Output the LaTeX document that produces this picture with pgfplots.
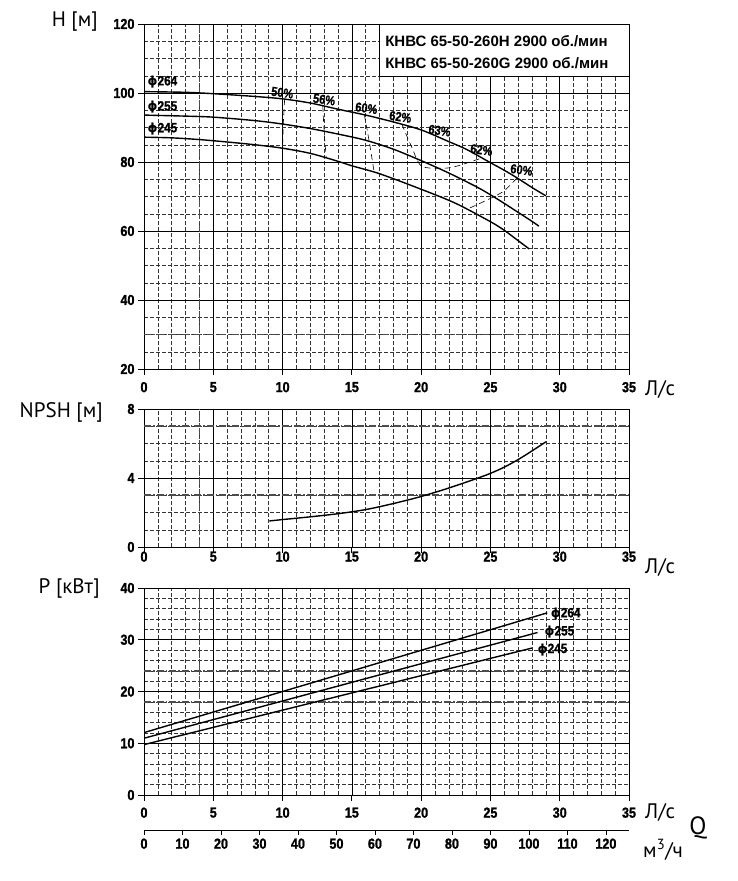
\documentclass[border=0pt]{standalone}
\usepackage{pgfplots}
\pgfplotsset{compat=1.18}
\usepackage{fontspec}
\setmainfont{Liberation Sans}
\newfontfamily\tickfont[FakeStretch=0.87, FakeBold=1.2]{Liberation Sans}
\newfontfamily\efffont[FakeStretch=0.85, FakeBold=1]{Liberation Sans}
\newfontfamily\labfont{PT Sans}
\newfontfamily\phifont{DejaVu Sans}
\newcommand{\phisym}{{\phifont\fontsize{12.5}{13}\selectfont ϕ}}

\pgfplotstableread{
q H
0 100.4
3 100.2
5 99.8
8 99.0
10 98.3
12 97.1
14 95.3
16 93.6
18 91.6
20 89.3
22 85.9
23.3 83.6
25 79.8
26 77.6
27 75.2
28 72.6
29 70.2
}\hA
\pgfplotstableread{
q H
0 93.6
3 93.3
5 93.0
8 92.0
10 91.0
12 89.7
14 88.1
16 86.3
18 83.7
20 80.4
22 76.8
24 72.8
25 70.5
26 68.0
27 65.4
28 62.8
28.5 61.4
}\hB
\pgfplotstableread{
q H
0 87.2
2 87.0
4 86.5
6 85.8
8 85.0
10 84.0
12 82.5
14 80.2
15 78.9
17 76.6
20 72.1
22.5 68.0
25 62.7
26 60.2
27 57.2
27.8 54.8
}\hC
\pgfplotstableread{
q N
9.05 1.51
10 1.59
12 1.75
14 1.93
16 2.17
18 2.52
20 2.93
22 3.42
24 3.97
25 4.27
26 4.63
27 5.07
28 5.57
29 6.10
}\npsh
\pgfplotstableread{
q P
0 12.06
10 20.0
20 27.96
29.1 35.2
}\pA
\pgfplotstableread{
q P
0 10.97
10 18.17
20 25.37
28.4 31.4
}\pB
\pgfplotstableread{
q P
0 9.74
10 16.40
20 23.06
28.0 28.4
}\pC

\tikzset{
  spec/.style={color=black!70, line width=1.6pt, dash pattern=on 7pt off 2pt on 1.5pt off 2pt},
}
\pgfplotsset{
  pumpgrid/.style={
    scale only axis, width=485pt, xmin=0, xmax=35,
    xtick={0,5,...,35}, minor x tick num=4,
    grid=both,
    major grid style={black, line width=0.65pt},
    minor grid style={black!80, line width=0.5pt, dash pattern=on 4pt off 2pt},
    tick align=outside, major tick length=6pt, minor tick length=0pt,
    xtick pos=bottom, ytick pos=left,
    axis line style={black, line width=0.8pt},
    tick style={black, line width=0.8pt},
    ticklabel style={font=\tickfont\bfseries\fontsize{14.5}{15}\selectfont},
    /pgf/number format/assume math mode=true,
    extra x ticks={4}, extra x tick labels={},
    extra x tick style={grid=major, major grid style={spec}, major tick length=0pt},
    extra y tick labels={},
    extra y tick style={grid=major, major grid style={spec}, major tick length=0pt},
  },
  curve/.style={black, line width=1.4pt, smooth, no markers},
  eff/.style={black, line width=0.6pt, dash pattern=on 6pt off 4pt, smooth, no markers},
}

\begin{document}
\begin{tikzpicture}
\useasboundingbox (0pt,0pt) rectangle (738pt,-881pt);

% ---------------- H(Q) ----------------
\begin{axis}[pumpgrid, at={(144pt,-369pt)}, anchor=south west, height=345pt,
  ymin=20, ymax=120, ytick={20,40,...,120}, minor y tick num=3,
  extra y ticks={30},
  xticklabel style={yshift=-3.5pt}]
  \addplot[curve] table[x=q,y=H] {\hA};
  \addplot[curve] table[x=q,y=H] {\hB};
  \addplot[curve] table[x=q,y=H] {\hC};
  % iso-efficiency lines
  \addplot[eff] coordinates {(10.15,98.2) (10.05,90.9) (10.0,84.0)};
  \addplot[eff] coordinates {(12.9,96.3) (13.0,89.0) (13.15,81.2)};
  \addplot[eff] coordinates {(15.9,93.7) (16.25,86.0) (16.6,77.3)};
  \addplot[eff] coordinates {(18.6,91.0) (19.3,84.5) (20.0,78.9) (21.3,78.2) (22.4,78.6) (24.4,81.2)};
  \addplot[eff] coordinates {(26.9,75.3) (25.9,71.4) (24.5,68.5) (23.3,66.3)};
  \begin{scope}[every node/.style={font=\efffont\bfseries\fontsize{13}{14}\selectfont, inner sep=0pt}]
    \node[rotate=-8] at (axis cs:9.98,100.1) {50\%};
    \node[rotate=-8] at (axis cs:13.0,98.1) {56\%};
    \node[rotate=-8] at (axis cs:16.05,95.6) {60\%};
    \node[rotate=-8] at (axis cs:18.5,93.1) {62\%};
    \node[rotate=-8] at (axis cs:21.33,89.1) {63\%};
    \node[rotate=-8] at (axis cs:24.35,83.5) {62\%};
    \node[rotate=-8] at (axis cs:27.24,77.7) {60\%};
  \end{scope}
  \begin{scope}[every node/.style={font=\tickfont\bfseries\fontsize{13.5}{14}\selectfont, inner sep=0pt, anchor=west}]
    \node at (axis cs:0.25,103.2) {\phisym264};
    \node at (axis cs:0.25,95.9) {\phisym255};
    \node at (axis cs:0.25,89.6) {\phisym245};
  \end{scope}
  \draw[fill=white, line width=0.8pt] (axis cs:17.0,104.9) rectangle (axis cs:35,120);
  \node[anchor=west, font=\bfseries\fontsize{15}{17}\selectfont, inner sep=0pt] at (axis cs:17.4,115.1) {КНВС 65-50-260Н 2900 об./мин};
  \node[anchor=west, font=\bfseries\fontsize{15}{17}\selectfont, inner sep=0pt] at (axis cs:17.4,108.7) {КНВС 65-50-260G 2900 об./мин};
\end{axis}

% ---------------- NPSH ----------------
\begin{axis}[pumpgrid, at={(144pt,-547pt)}, anchor=south west, height=138pt,
  ymin=0, ymax=8, ytick={0,4,8}, minor y tick num=3,
  extra y ticks={3,7},
  xticklabel style={yshift=5pt}]
  \addplot[curve] table[x=q,y=N] {\npsh};
\end{axis}

% ---------------- P ----------------
\begin{axis}[pumpgrid, at={(144pt,-795pt)}, anchor=south west, height=207pt,
  ymin=0, ymax=40, ytick={0,10,...,40}, minor y tick num=4,
  extra y ticks={18,24},
  xticklabel style={yshift=-3pt}]
  \addplot[curve] table[x=q,y=P] {\pA};
  \addplot[curve] table[x=q,y=P] {\pB};
  \addplot[curve] table[x=q,y=P] {\pC};
  \begin{scope}[every node/.style={font=\tickfont\bfseries\fontsize{13.5}{14}\selectfont, inner sep=0pt, anchor=west}]
    \node at (axis cs:29.35,35.0) {\phisym264};
    \node at (axis cs:28.9,31.5) {\phisym255};
    \node at (axis cs:28.4,28.1) {\phisym245};
  \end{scope}
\end{axis}

% ---------------- m3/h axis ----------------
\begin{axis}[scale only axis, at={(144pt,-830pt)}, anchor=south west, width=485pt, height=1pt,
  xmin=0, xmax=126, ymin=0, ymax=1,
  axis x line=bottom, axis y line=none, x axis line style={-, line width=0.8pt},
  xtick={0,10,...,120}, tick align=outside, major tick length=5pt, minor tick num=0,
  tick style={black, line width=0.8pt}, ytick=\empty,
  ticklabel style={font=\tickfont\bfseries\fontsize{14.5}{15}\selectfont},
  /pgf/number format/assume math mode=true]
  \addplot[draw=none] coordinates {(0,0) (126,0)};
\end{axis}

% ---------------- labels ----------------
\begin{scope}[every node/.style={font=\labfont\fontsize{21}{24}\selectfont, inner sep=0pt}]
  \node[anchor=east] at (98pt,-22pt) {H [м]};
  \node[anchor=east] at (103pt,-412pt) {NPSH [м]};
  \node[anchor=east] at (100pt,-588pt) {P [кВт]};
  \node[anchor=west] at (645pt,-389pt) {Л/с};
  \node[anchor=west] at (645pt,-567pt) {Л/с};
  \node[anchor=west] at (645pt,-812pt) {Л/с};
  \node[anchor=west] at (643pt,-850pt) {м\textsuperscript{3}/ч};
  \node[font=\labfont\fontsize{25}{27}\selectfont] at (698pt,-828pt) {Q};
\end{scope}
\end{tikzpicture}
\end{document}
